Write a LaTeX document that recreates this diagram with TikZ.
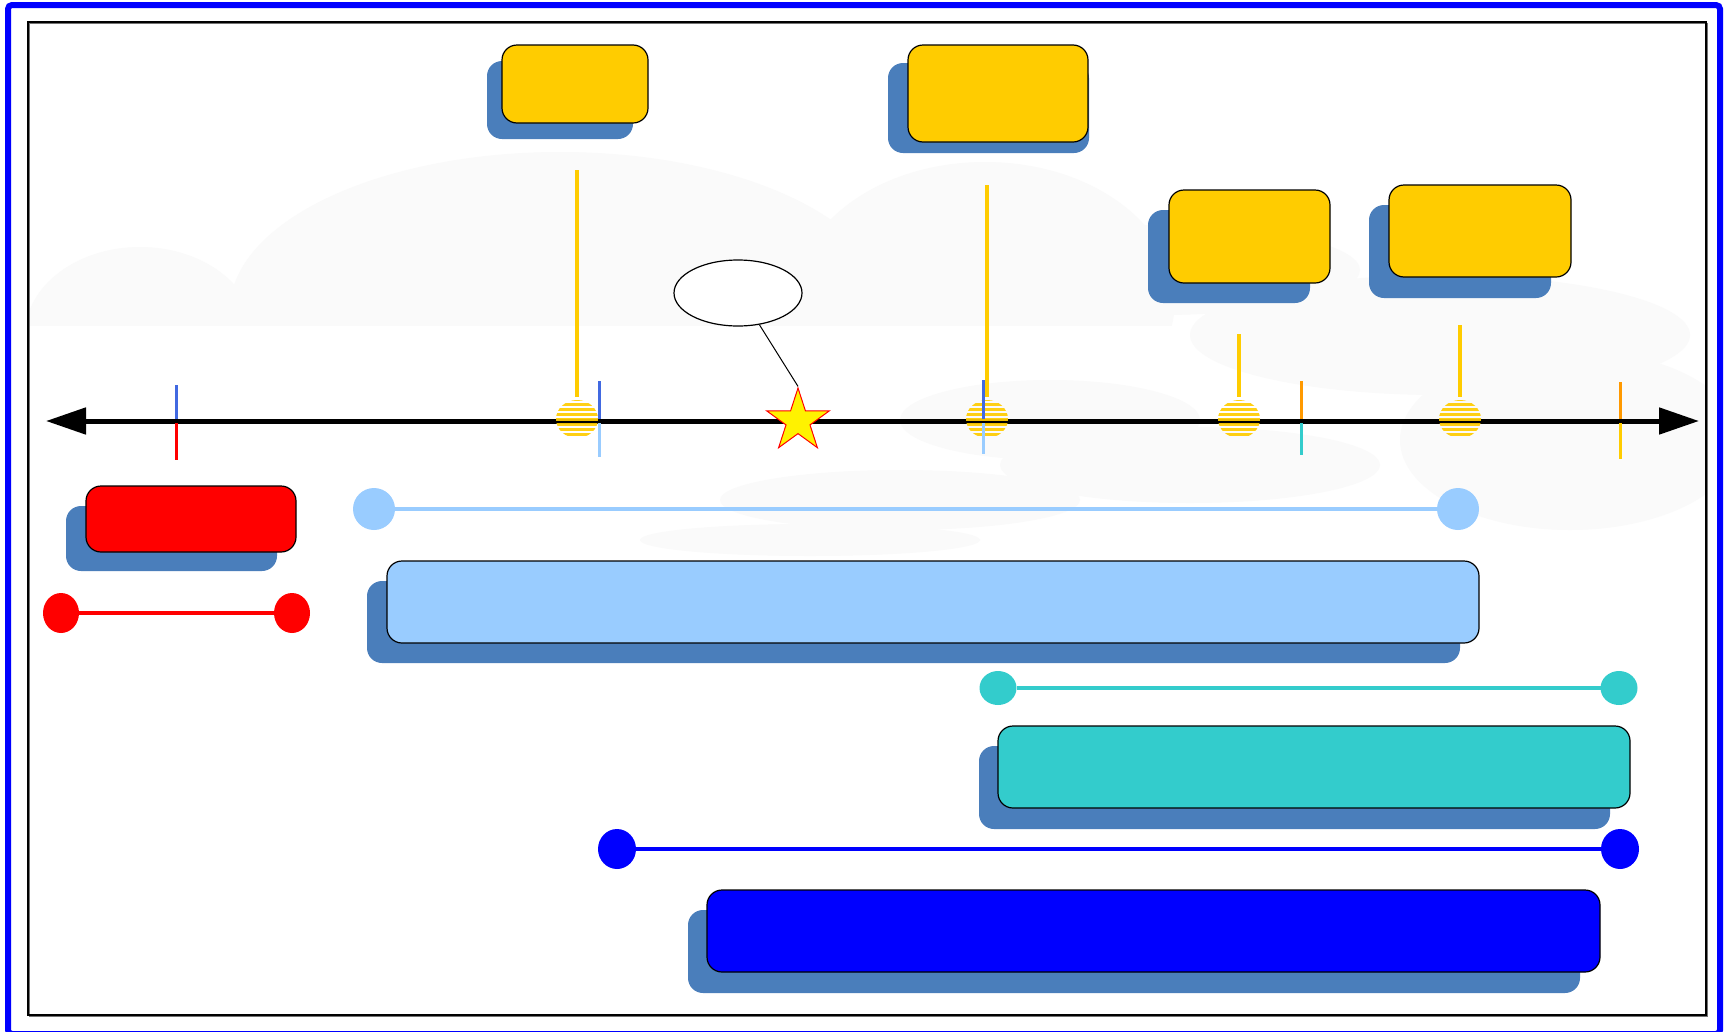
\documentclass[tikz,border=0pt]{standalone}
\usetikzlibrary{shapes.geometric,arrows.meta}
\definecolor{shadowblue}{HTML}{4A7EBB}
\definecolor{gold}{HTML}{FFCC00}
\definecolor{lightblue}{HTML}{99CCFF}
\definecolor{tealc}{HTML}{33CCCC}
\definecolor{royal}{HTML}{4169E1}
\definecolor{orangec}{HTML}{FF9900}
\definecolor{cloudc}{HTML}{FAFAFA}
\begin{document}
\begin{tikzpicture}[x=1pt,y=-1pt,
  shadowbox/.style={rectangle,rounded corners=15pt,fill=shadowblue,inner sep=0pt,outer sep=0pt},
  card/.style={rectangle,rounded corners=15pt,draw=black,line width=1.2pt,inner sep=0pt,outer sep=0pt},
  sz/.style 2 args={minimum width=#1pt,minimum height=#2pt},
  milestone/.style={ellipse,minimum width=42pt,minimum height=38pt,inner sep=0pt,outer sep=0pt,
    path picture={\foreach \k in {-4,...,4}{\draw[gold,line width=3pt,opacity=0.92]
      ([xshift=-25pt,yshift=\k*5pt]path picture bounding box.center) -- ++(50pt,0pt);}}},
  stem/.style={gold,line width=4.5pt,shorten >=3pt},
  tick/.style={line width=3pt},
  dot/.style={ellipse,inner sep=0pt,outer sep=0pt},
  barline/.style={line width=4.5pt}
]
\useasboundingbox (0,0) rectangle (1728,1031);
\fill[white] (0,0) rectangle (1728,1031);

% faint cloud background
\begin{scope}
  \clip (28,22) rectangle (1706,1015);
  \begin{scope}
    \clip (28,22) rectangle (1706,325);
    \fill[cloudc] (140,335) ellipse [x radius=115, y radius=88];
    \fill[cloudc] (560,310) ellipse [x radius=330, y radius=158];
    \fill[cloudc] (985,300) ellipse [x radius=190, y radius=138];
  \end{scope}
  \fill[cloudc] (1160,270) ellipse [x radius=200, y radius=45];
  \fill[cloudc] (1440,335) ellipse [x radius=250, y radius=60];
  \fill[cloudc] (1570,440) ellipse [x radius=170, y radius=90];
  \fill[cloudc] (1190,465) ellipse [x radius=190, y radius=38];
  \fill[cloudc] (1050,420) ellipse [x radius=150, y radius=40];
  \fill[cloudc] (810,540) ellipse [x radius=170, y radius=16];
  \fill[cloudc] (900,500) ellipse [x radius=180, y radius=30];
\end{scope}

% frames
\draw[blue,line width=6pt,rounded corners=4pt] (8,5) rectangle (1720,1034);
\draw[black!55,line width=1.6pt] (29.5,23.5) rectangle (1707.5,1016.5);
\draw[black,line width=1.2pt] (28,22) rectangle (1706,1015);

% top cards
\node[shadowbox,sz={146}{78}] (sA) at (560,100) {};
\node[card,fill=gold,sz={146}{78}] (cA) at (575,84) {};
\node[shadowbox,sz={201}{90}] (sB) at (988.5,108) {};
\node[card,fill=gold,sz={180}{97}] (cB) at (998,93.5) {};
\node[shadowbox,sz={162}{93}] (sC) at (1229,256.5) {};
\node[card,fill=gold,sz={161}{93}] (cC) at (1249.5,236.5) {};
\node[shadowbox,sz={182}{93}] (sD) at (1460,251.5) {};
\node[card,fill=gold,sz={182}{92}] (cD) at (1480,231) {};

% axis
\coordinate (axL) at (46,421);
\coordinate (axR) at (1699,421);
\draw[line width=5pt,{Triangle[length=40pt,width=26pt]}-{Triangle[length=40pt,width=26pt]}] (axL) -- (axR);

% milestones
\node[milestone] (m1) at (577,419) {};
\node[milestone] (m2) at (987,419) {};
\node[milestone] (m3) at (1239,419) {};
\node[milestone] (m4) at (1460,419) {};
\coordinate (t1) at (577,170);
\coordinate (t2) at (987,185);
\coordinate (t3) at (1239,334);
\coordinate (t4) at (1460,325);
\draw[stem] (t1) -- (m1.north);
\draw[stem] (t2) -- (m2.north);
\draw[stem] (t3) -- (m3.north);
\draw[stem] (t4) -- (m4.north);

% ticks
\draw[tick,royal] (176,385) -- (176,419);
\draw[tick,red] (176,423) -- (176,460);
\draw[tick,royal] (599,381) -- (599,419);
\draw[tick,lightblue] (599,423) -- (599,457);
\draw[tick,royal] (983,380) -- (983,419);
\draw[tick,lightblue] (983,423) -- (983,454);
\draw[tick,orangec] (1301,381) -- (1301,419);
\draw[tick,tealc] (1301,423) -- (1301,455);
\draw[tick,orangec] (1620,382) -- (1620,419);
\draw[tick,gold] (1620,423) -- (1620,459);

% star and callout
\node[star,star points=5,star point ratio=2.618,minimum size=66pt,inner sep=0pt,
      fill=yellow,draw=red,line width=1pt] (star) at (798,421) {};
\node[ellipse,draw=black,fill=white,line width=1.2pt,minimum width=128pt,minimum height=66pt,inner sep=0pt] (ell) at (738,293) {};
\draw[line width=1pt] (ell.-56) -- (star.north);

% red bar
\node[shadowbox,sz={211}{65}] (sR) at (171.5,538.5) {};
\node[card,fill=red,sz={210}{66}] (cR) at (191,519) {};
\node[dot,fill=red,minimum width=36pt,minimum height=40pt] (r1) at (61,613) {};
\node[dot,fill=red,minimum width=36pt,minimum height=40pt] (r2) at (292,613) {};
\draw[barline,red] (r1) -- (r2);

% light blue bar
\node[dot,fill=lightblue,minimum width=42pt,minimum height=42pt] (l1) at (374,509) {};
\node[dot,fill=lightblue,minimum width=42pt,minimum height=42pt] (l2) at (1458,509) {};
\draw[barline,lightblue] (l1) -- (l2);
\node[shadowbox,sz={1093}{82}] (sL) at (913.5,622) {};
\node[card,fill=lightblue,sz={1092}{82}] (cL) at (933,602) {};

% cyan bar
\node[dot,fill=tealc,minimum width=37pt,minimum height=34pt] (c1) at (998,688) {};
\node[dot,fill=tealc,minimum width=37pt,minimum height=34pt] (c2) at (1619,688) {};
\draw[barline,tealc] (c1) -- (c2);
\node[shadowbox,sz={631}{83}] (sT) at (1294.5,787.5) {};
\node[card,fill=tealc,sz={632}{82}] (cT) at (1314,767) {};

% blue bar
\node[dot,fill=blue,minimum width=38pt,minimum height=40pt] (b1) at (617,849) {};
\node[dot,fill=blue,minimum width=38pt,minimum height=40pt] (b2) at (1620,849) {};
\draw[barline,blue] (b1) -- (b2);
\node[shadowbox,sz={892}{83}] (sB2) at (1134,951.5) {};
\node[card,fill=blue,sz={893}{82}] (cB2) at (1153.5,931) {};
\end{tikzpicture}
\end{document}
